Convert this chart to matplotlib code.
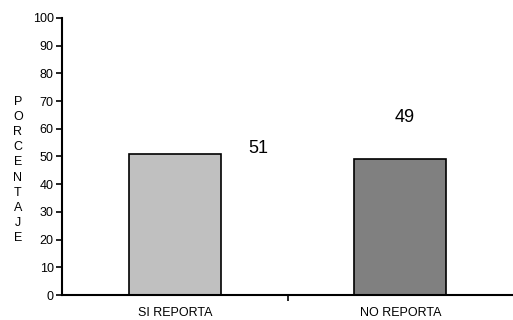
import matplotlib
matplotlib.use("Agg")
import matplotlib.pyplot as plt

plt.rcParams['font.family'] = ['Liberation Sans', 'DejaVu Sans']

# data
categorias = ["SI REPORTA", "NO REPORTA"]
porcentajes = [51, 49]
colores = ["#c0c0c0", "#808080"]
etiqueta_y = "PORCENTAJE"

fig = plt.figure(figsize=(5.13, 3.2), dpi=100)
ax = fig.add_axes([0.121, 0.078, 0.879, 0.866])

pos = range(len(categorias))
ax.bar(pos, porcentajes, width=0.41, color=colores, edgecolor="black", linewidth=1.2)

# value labels placed like the original (offset from the bars)
offsets = [(0.37, 2), (0.02, 15)]
for i, v in enumerate(porcentajes):
    dx, dy = offsets[i]
    ax.text(i + dx, v + dy, str(v), ha="center", va="center", fontsize=13)

ax.set_xlim(-0.5, 1.5)
ax.set_ylim(0, 100)
ax.set_yticks(range(0, 101, 10))
ax.tick_params(axis="y", direction="out", length=4, width=1.2, labelsize=9, pad=2)

# category labels without ticks, a single tick between the categories
ax.set_xticks([0.5])
ax.set_xticklabels([""])
ax.tick_params(axis="x", direction="out", length=4, width=1.2)
for i, c in enumerate(categorias):
    ax.text(i, -6.5, c, ha="center", va="center", fontsize=9, transform=ax.transData)

for s in ["top", "right"]:
    ax.spines[s].set_visible(False)
ax.spines["left"].set_linewidth(1.5)
ax.spines["bottom"].set_linewidth(1.5)

fig.text(18 / 513, 1 - 170 / 320, "\n".join(etiqueta_y), ha="center", va="center",
         fontsize=9, linespacing=1.35)

fig.savefig("out.png", dpi=100)
